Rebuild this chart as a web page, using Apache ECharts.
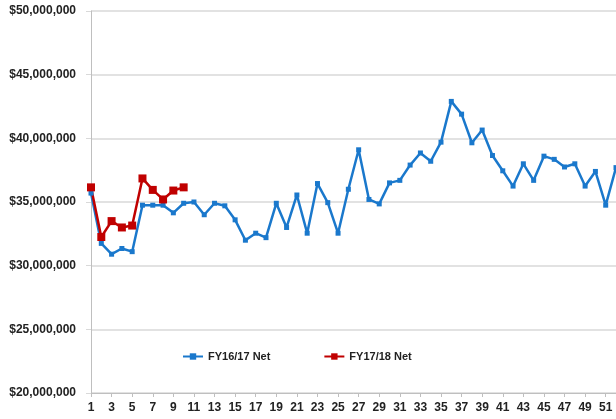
<!DOCTYPE html>
<html>
<head>
<meta charset="utf-8">
<script src="https://cdn.jsdelivr.net/npm/echarts@6/dist/echarts.min.js"></script>
<style>
  html, body { margin: 0; padding: 0; background: #fff; }
  #chart { width: 616px; height: 419px; }
</style>
</head>
<body>
<div id="chart"></div>
<script>
// week numbers (week 52 sits just past the right edge, as in the original crop)
const weeks = ['1','2','3','4','5','6','7','8','9','10','11','12','13','14','15','16','17','18','19','20',
  '21','22','23','24','25','26','27','28','29','30','31','32','33','34','35','36','37','38','39','40',
  '41','42','43','44','45','46','47','48','49','50','51','52']

// net totals in $ millions
const fy1617 = [35.7, 31.75, 30.9, 31.35, 31.1, 34.75, 34.75, 34.75, 34.15, 34.9,
  35.0, 34.0, 34.9, 34.7, 33.6, 32.0, 32.55, 32.2, 34.9, 33.0,
  35.55, 32.55, 36.45, 34.95, 32.55, 36.0, 39.1, 35.2, 34.85, 36.5,
  36.7, 37.9, 38.85, 38.2, 39.7, 42.9, 41.9, 39.65, 40.65, 38.65,
  37.45, 36.25, 38.0, 36.7, 38.6, 38.35, 37.75, 38.0, 36.25, 37.4,
  34.75, 37.7]
const fy1718 = [36.15, 32.25, 33.5, 33.0, 33.15, 36.85, 35.95, 35.2, 35.9, 36.15]

const blue = '#1a78cc'
const red = '#c00000'
const labelFont = { fontFamily: 'Liberation Sans', fontWeight: 'bold', fontSize: 12, color: '#222' }

const chart = echarts.init(document.getElementById('chart'), null, { renderer: 'canvas' })

chart.setOption({
  animation: false,
  backgroundColor: '#fff',
  grid: { left: 91, top: 11, bottom: 26, width: 530.4, containLabel: false },
  legend: {
    left: 177,
    top: 346,
    itemWidth: 20,
    itemHeight: 8,
    itemGap: 53,
    textStyle: { ...labelFont, fontSize: 11 },
    data: ['FY16/17 Net', 'FY17/18 Net'],
  },
  xAxis: {
    type: 'category',
    data: weeks,
    boundaryGap: false,
    axisLine: { lineStyle: { color: '#bfbfbf', width: 1 } },
    axisTick: { interval: 1, length: 4, lineStyle: { color: '#bfbfbf' } },
    axisLabel: { interval: 1, margin: 9, ...labelFont },
    splitLine: { show: false },
  },
  yAxis: {
    type: 'value',
    min: 20,
    max: 50,
    interval: 5,
    axisLine: { show: true, lineStyle: { color: '#bfbfbf', width: 1 } },
    axisTick: { show: true, length: 5, lineStyle: { color: '#d9d9d9' } },
    axisLabel: {
      margin: 15,
      ...labelFont,
      formatter: (v) => '$' + (v * 1000000).toLocaleString('en-US'),
    },
    splitLine: { lineStyle: { color: '#d9d9d9', width: 1.5 } },
  },
  series: [
    {
      name: 'FY16/17 Net',
      type: 'line',
      data: fy1617,
      color: blue,
      symbol: 'rect',
      symbolSize: 5,
      showAllSymbol: true,
      lineStyle: { width: 2.5 },
      clip: false,
    },
    {
      name: 'FY17/18 Net',
      type: 'line',
      data: fy1718,
      color: red,
      symbol: 'rect',
      symbolSize: 8,
      showAllSymbol: true,
      lineStyle: { width: 2.5 },
    },
  ],
})
</script>
</body>
</html>
